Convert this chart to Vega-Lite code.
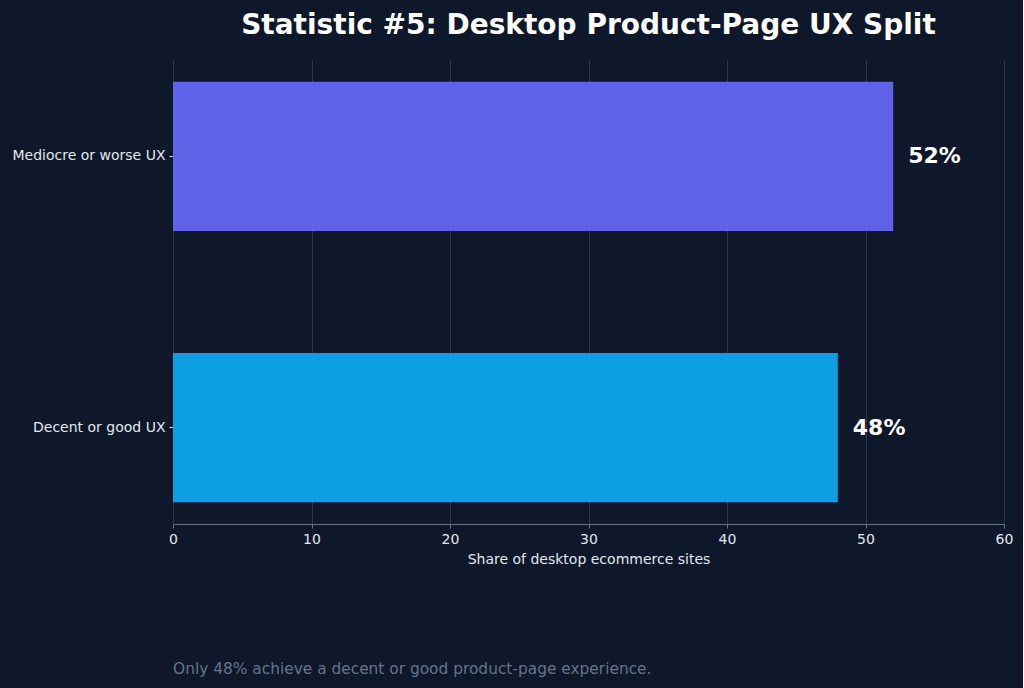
{
  "$schema": "https://vega.github.io/schema/vega-lite/v6.json",
  "background": "#0f172a",
  "padding": {"left": 12, "top": 12, "right": 10, "bottom": 10},
  "title": {
    "text": "Only 48% achieve a decent or good product-page experience.",
    "orient": "bottom",
    "anchor": "start",
    "font": "DejaVu Sans",
    "fontSize": 15.4,
    "fontWeight": "normal",
    "color": "#64748b",
    "offset": 96,
    "dx": 161
  },
  "config": {
    "view": {"stroke": null},
    "font": "DejaVu Sans"
  },
  "data": {
    "values": [
      {"category": "Mediocre or worse UX", "share": 52, "label": "52%"},
      {"category": "Decent or good UX", "share": 48, "label": "48%"}
    ]
  },
  "vconcat": [
    {
      "width": 831,
      "height": 464,
      "title": {
        "text": "Statistic #5: Desktop Product-Page UX Split",
        "anchor": "middle",
        "frame": "group",
        "font": "DejaVu Sans",
        "fontSize": 28,
        "fontWeight": "bold",
        "color": "#ffffff",
        "offset": 20
      },
      "encoding": {
        "y": {
          "field": "category",
          "type": "nominal",
          "sort": ["Mediocre or worse UX", "Decent or good UX"],
          "scale": {"paddingInner": 0.45, "paddingOuter": 0.08},
          "axis": {
            "title": null,
            "domain": false,
            "grid": false,
            "labelColor": "#e2e8f0",
            "labelFontSize": 14,
            "tickColor": "#cbd5e1",
            "tickSize": 4,
            "labelPadding": 4
          }
        },
        "x": {
          "field": "share",
          "type": "quantitative",
          "scale": {"domain": [0, 60], "nice": false},
          "axis": {
            "title": "Share of desktop ecommerce sites",
            "titleColor": "#e2e8f0",
            "titleFontSize": 14,
            "titleFontWeight": "normal",
            "titlePadding": 6,
            "values": [0, 10, 20, 30, 40, 50, 60],
            "labelFlush": false,
            "labelColor": "#e2e8f0",
            "labelFontSize": 14,
            "labelPadding": 4,
            "domainColor": "#64748b",
            "domainWidth": 1.2,
            "tickColor": "#64748b",
            "tickSize": 4,
            "gridColor": "#334155",
            "gridOpacity": 0.8
          }
        }
      },
      "layer": [
        {
          "mark": {"type": "bar", "opacity": 0.96},
          "encoding": {
            "color": {
              "field": "category",
              "type": "nominal",
              "scale": {
                "domain": ["Mediocre or worse UX", "Decent or good UX"],
                "range": ["#6366f1", "#0ea5e9"]
              },
              "legend": null
            }
          }
        },
        {
          "mark": {
            "type": "text",
            "align": "left",
            "baseline": "middle",
            "dx": 15,
            "fontSize": 22,
            "fontWeight": "bold",
            "color": "#ffffff"
          },
          "encoding": {
            "text": {"field": "label"}
          }
        }
      ]
    }
  ]
}
